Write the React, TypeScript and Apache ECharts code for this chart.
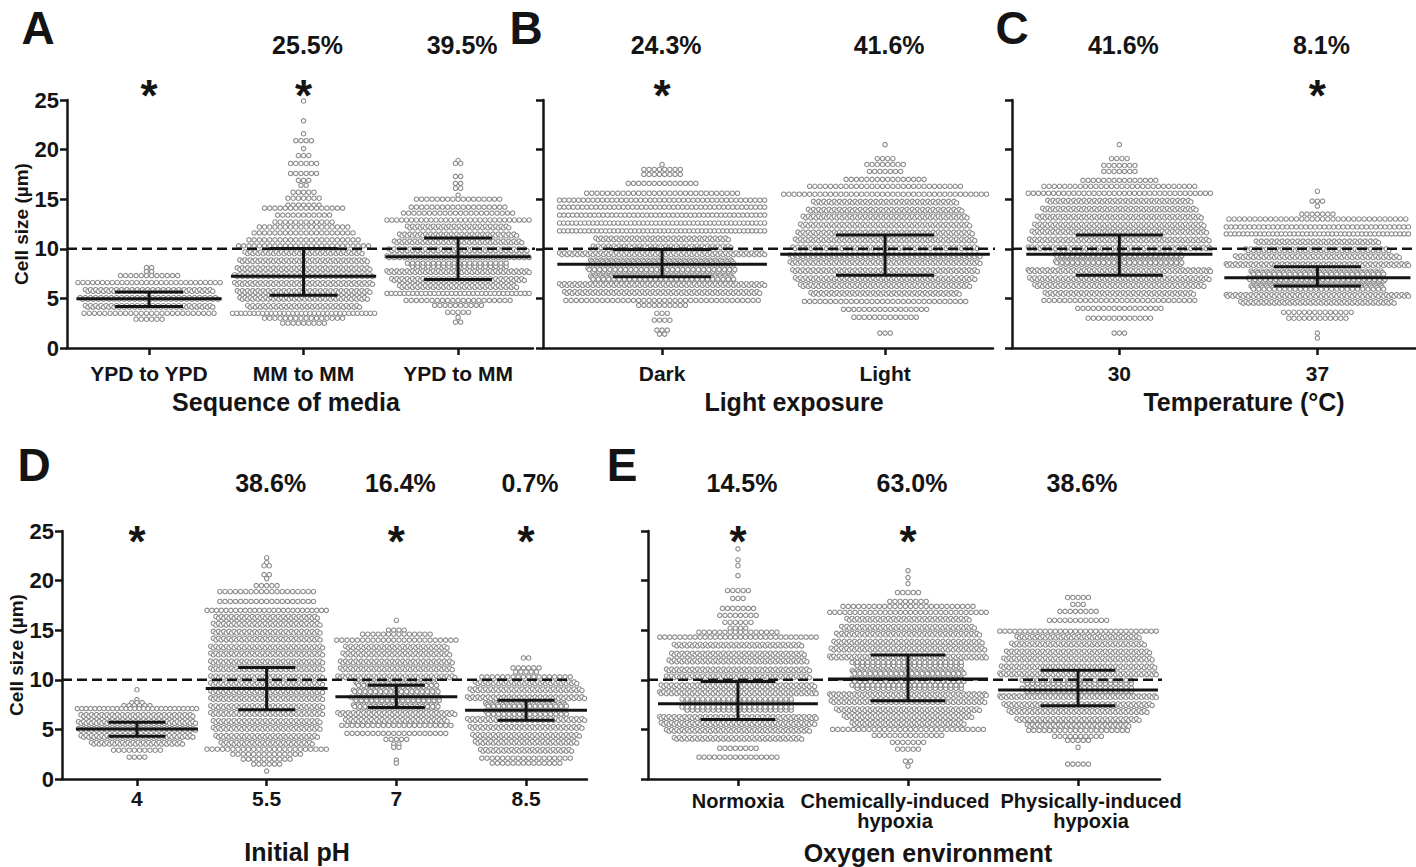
import React, { useEffect, useRef } from 'react';
import * as echarts from 'echarts';

const FONT = '"Liberation Sans", Arial, Helvetica, sans-serif';
const INK = '#141414';
const DOT = '#8a8a8a';
const THRESHOLD = 10;
const Y_TICKS_MAX = 25;

// ---------- Panel A: Sequence of media ----------
const mediaCats = ['YPD to YPD', 'MM to MM', 'YPD to MM'];
const ypdYpdSizes = [8.1, 7.7, 7.3, 6.6, 5.8, 5.0, 4.2, 3.5, 2.9];
const ypdYpdCounts = [2, 2, 12, 30, 50, 54, 50, 26, 6];
const mmMmSizes = [24.9, 22.9, 21.6, 20.9, 20.1, 19.4, 18.6, 17.6, 16.9, 16.4, 15.7, 15.1, 14.4, 14.1, 13.4, 12.7, 12.2, 11.6, 10.9, 10.3, 9.6, 8.8, 8.0, 7.3, 6.5, 5.7, 5.0, 4.2, 3.5, 3.0, 2.5];
const mmMmCounts = [1, 1, 1, 4, 1, 3, 6, 6, 3, 2, 5, 7, 7, 16, 11, 12, 18, 20, 22, 26, 46, 50, 52, 54, 54, 52, 50, 44, 34, 16, 9];
const ypdMmSizes = [18.9, 18.6, 17.3, 16.6, 16.1, 15.4, 15.0, 14.2, 13.6, 12.9, 12.2, 11.4, 10.7, 9.9, 9.2, 8.4, 7.7, 6.9, 6.2, 5.5, 4.8, 4.3, 3.6, 3.1, 2.6];
const ypdMmCounts = [1, 2, 2, 2, 2, 1, 17, 19, 22, 30, 40, 46, 50, 54, 56, 58, 56, 52, 46, 34, 21, 10, 5, 1, 2];
const mediaMedian = [4.97, 7.23, 9.19];
const mediaQ1 = [4.19, 5.32, 6.9];
const mediaQ3 = [5.64, 10.03, 11.1];
const mediaPct = ['', '25.5%', '39.5%'];
const mediaStar = [true, true, false];

// ---------- Panel B: Light exposure ----------
const lightCats = ['Dark', 'Light'];
const darkSizes = [18.5, 18.0, 17.5, 16.6, 15.6, 14.9, 14.2, 13.4, 12.6, 11.8, 11.0, 10.2, 9.5, 8.7, 7.9, 7.1, 6.4, 5.6, 4.8, 4.3, 3.5, 2.8, 1.8, 1.4];
const darkCounts = [1, 8, 8, 14, 30, 44, 46, 48, 50, 50, 52, 54, 80, 84, 86, 84, 80, 76, 38, 10, 3, 4, 3, 2];
const lightSizes = [20.5, 19.1, 18.5, 17.8, 17.0, 16.3, 15.5, 14.7, 13.9, 13.2, 12.4, 11.6, 10.9, 10.1, 9.3, 8.6, 7.8, 7.0, 6.3, 5.5, 4.7, 3.9, 3.1, 1.5];
const lightCounts = [1, 4, 8, 7, 16, 30, 40, 56, 60, 64, 66, 68, 70, 72, 74, 74, 72, 70, 66, 58, 32, 17, 13, 3];
const lightMedian = [8.45, 9.46];
const lightQ1 = [7.17, 7.34];
const lightQ3 = [9.93, 11.38];
const lightPct = ['24.3%', '41.6%'];
const lightStar = [true, false];

// ---------- Panel C: Temperature ----------
const tempCats = ['30', '37'];
const temp30Sizes = [20.5, 19.1, 18.4, 17.8, 16.9, 16.3, 15.6, 14.8, 14.0, 13.2, 12.4, 11.7, 10.9, 10.1, 9.3, 8.6, 7.8, 7.0, 6.3, 5.5, 4.8, 4.0, 3.0, 1.5];
const temp30Counts = [1, 4, 7, 7, 15, 30, 37, 56, 60, 64, 66, 68, 70, 72, 74, 74, 72, 70, 66, 58, 30, 17, 13, 3];
const temp37Sizes = [15.8, 14.8, 14.3, 13.5, 13.0, 12.2, 11.5, 10.7, 9.9, 9.2, 8.4, 7.6, 6.9, 6.1, 5.3, 4.6, 3.6, 3.0, 1.5, 1.0];
const temp37Counts = [1, 3, 1, 7, 35, 40, 44, 48, 56, 64, 72, 78, 80, 78, 72, 60, 14, 12, 1, 1];
const tempMedian = [9.46, 7.07];
const tempQ1 = [7.34, 6.26];
const tempQ3 = [11.38, 8.18];
const tempPct = ['41.6%', '8.1%'];
const tempStar = [false, true];

// ---------- Panel D: Initial pH ----------
const phCats = ['4', '5.5', '7', '8.5'];
const ph4Sizes = [9.0, 8.0, 7.7, 7.4, 7.1, 6.4, 5.7, 5.0, 4.3, 3.6, 2.9, 2.2];
const ph4Counts = [1, 1, 3, 6, 28, 44, 46, 46, 44, 36, 10, 4];
const ph55Sizes = [22.3, 21.8, 21.5, 20.6, 20.2, 19.5, 18.9, 17.9, 17.0, 16.3, 15.6, 14.8, 14.1, 13.3, 12.6, 11.8, 11.1, 10.3, 9.6, 8.8, 8.1, 7.3, 6.6, 5.8, 5.1, 4.3, 3.6, 3.0, 2.5, 2.0, 1.5, 0.8];
const ph55Counts = [1, 1, 2, 2, 1, 5, 19, 19, 26, 40, 42, 42, 42, 44, 44, 44, 44, 44, 44, 44, 44, 44, 44, 42, 42, 40, 36, 24, 14, 10, 6, 1];
const ph7Sizes = [16.0, 15.0, 14.6, 14.0, 13.3, 12.6, 11.8, 11.1, 10.3, 9.6, 8.8, 8.1, 7.3, 6.6, 5.9, 5.4, 4.6, 4.0, 3.5, 3.2, 1.9, 1.6];
const ph7Counts = [1, 4, 14, 24, 40, 42, 44, 44, 46, 48, 50, 52, 50, 46, 40, 22, 20, 5, 2, 2, 1, 1];
const ph85Sizes = [12.2, 11.2, 10.8, 10.3, 9.7, 9.0, 8.2, 7.5, 6.7, 6.0, 5.2, 4.4, 3.7, 2.9, 2.1, 1.6];
const ph85Counts = [2, 6, 5, 18, 40, 44, 46, 48, 48, 46, 44, 42, 40, 36, 18, 14];
const phMedian = [5.05, 9.12, 8.28, 6.93];
const phQ1 = [4.31, 6.99, 7.2, 5.91];
const phQ3 = [5.72, 11.25, 9.46, 7.94];
const phPct = ['', '38.6%', '16.4%', '0.7%'];
const phStar = [true, false, true, true];

// ---------- Panel E: Oxygen environment ----------
const oxyCats = ['Normoxia', 'Chemically-induced\nhypoxia', 'Physically-induced\nhypoxia'];
const normoxiaSizes = [23.2, 22.1, 21.5, 20.5, 19.0, 18.2, 17.2, 16.5, 15.8, 15.2, 14.8, 14.3, 13.5, 12.6, 11.9, 11.0, 10.3, 9.4, 8.7, 7.9, 7.1, 6.2, 5.6, 4.9, 4.1, 3.1, 2.2];
const normoxiaCounts = [1, 1, 1, 1, 5, 3, 7, 8, 6, 4, 16, 32, 50, 52, 54, 56, 56, 60, 62, 64, 64, 62, 60, 56, 50, 8, 16];
const chemSizes = [21.0, 20.3, 19.7, 18.8, 17.9, 17.4, 16.8, 16.1, 15.3, 14.6, 13.8, 13.1, 12.3, 11.6, 10.8, 10.0, 9.3, 8.5, 7.8, 7.0, 6.3, 5.6, 5.0, 4.4, 3.7, 3.0, 1.8, 1.3];
const chemCounts = [1, 1, 1, 5, 8, 26, 32, 48, 52, 56, 58, 60, 62, 64, 66, 66, 64, 62, 60, 56, 50, 44, 30, 14, 7, 5, 2, 1];
const physSizes = [18.3, 17.6, 16.9, 16.0, 14.9, 14.3, 13.6, 12.8, 12.1, 11.3, 10.6, 9.8, 9.0, 8.3, 7.5, 6.8, 6.0, 5.4, 4.9, 4.3, 3.9, 3.2, 1.5];
const physCounts = [5, 3, 8, 12, 32, 48, 52, 56, 58, 60, 62, 64, 64, 62, 58, 54, 48, 40, 20, 10, 5, 1, 5];
const oxyMedian = [7.58, 10.07, 8.96];
const oxyQ1 = [5.99, 7.9, 7.38];
const oxyQ3 = [9.83, 12.5, 10.97];
const oxyPct = ['14.5%', '63.0%', '38.6%'];
const oxyStar = [true, true, false];

type Panel = {
  letter: string;
  title: string;
  cats: string[];
  groups: [number[], number[]][];
  median: number[];
  q1: number[];
  q3: number[];
  pct: string[];
  star: boolean[];
  layout: any;
};

const panels: Panel[] = [
  {
    letter: 'A', title: 'Sequence of media', cats: mediaCats,
    groups: [[ypdYpdSizes, ypdYpdCounts], [mmMmSizes, mmMmCounts], [ypdMmSizes, ypdMmCounts]],
    median: mediaMedian, q1: mediaQ1, q3: mediaQ3, pct: mediaPct, star: mediaStar,
    layout: { left: 67, top: 100, width: 466, height: 248, xMin: -0.531, xMax: 2.485, dashExt: 0.06, yLabels: true, nameGap: 34, labelMargin: 15, labelSize: 21, customLabels: false, labelShift: [0, 0, 0], pctY: 45, starY: 85, letterX: 38, letterY: 28, titleX: 286, titleY: 402 },
  },
  {
    letter: 'B', title: 'Light exposure', cats: lightCats,
    groups: [[darkSizes, darkCounts], [lightSizes, lightCounts]],
    median: lightMedian, q1: lightQ1, q3: lightQ3, pct: lightPct, star: lightStar,
    layout: { left: 543, top: 100, width: 450, height: 248, xMin: -0.534, xMax: 1.484, dashExt: 0.01, yLabels: false, nameGap: 30, labelMargin: 15, labelSize: 21, customLabels: false, labelShift: [0, 0], pctY: 45, starY: 85, letterX: 526, letterY: 28, titleX: 794, titleY: 402 },
  },
  {
    letter: 'C', title: 'Temperature (°C)', cats: tempCats,
    groups: [[temp30Sizes, temp30Counts], [temp37Sizes, temp37Counts]],
    median: tempMedian, q1: tempQ1, q3: tempQ3, pct: tempPct, star: tempStar,
    layout: { left: 1012, top: 100, width: 410, height: 248, xMin: -0.542, xMax: 1.498, dashExt: 0, yLabels: false, nameGap: 30, labelMargin: 15, labelSize: 21, customLabels: false, labelShift: [0, 0], pctY: 45, starY: 85, letterX: 1012, letterY: 28, titleX: 1244, titleY: 402 },
  },
  {
    letter: 'D', title: 'Initial pH', cats: phCats,
    groups: [[ph4Sizes, ph4Counts], [ph55Sizes, ph55Counts], [ph7Sizes, ph7Counts], [ph85Sizes, ph85Counts]],
    median: phMedian, q1: phQ1, q3: phQ3, pct: phPct, star: phStar,
    layout: { left: 62, top: 531, width: 525, height: 248, xMin: -0.578, xMax: 3.47, dashExt: -0.13, yLabels: true, nameGap: 30, labelMargin: 9, labelSize: 21, customLabels: false, labelShift: [0, 0, 0, 0], pctY: 483, starY: 531, letterX: 34, letterY: 465, titleX: 297, titleY: 852 },
  },
  {
    letter: 'E', title: 'Oxygen environment', cats: oxyCats,
    groups: [[normoxiaSizes, normoxiaCounts], [chemSizes, chemCounts], [physSizes, physCounts]],
    median: oxyMedian, q1: oxyQ1, q3: oxyQ3, pct: oxyPct, star: oxyStar,
    layout: { left: 648, top: 531, width: 512, height: 248, xMin: -0.529, xMax: 2.482, dashExt: 0.08, yLabels: false, nameGap: 30, labelMargin: 12, labelSize: 20, customLabels: true, labelShift: [0, -13, 13], pctY: 483, starY: 531, letterX: 622, letterY: 465, titleX: 928, titleY: 853 },
  },
];

const DOT_STEP = 5.2;

function swarmRender(_params: any, api: any) {
  const g = api.value(0);
  const v = api.value(1);
  const rank = api.value(2);
  const n = api.value(3);
  const c = api.coord([g, v]);
  const band = api.size([1, 0])[0];
  const H = 0.46 * band;
  const cap = Math.floor((2 * H) / DOT_STEP) + 1;
  const k = n <= cap * 1.25 ? 1 : Math.ceil(n / cap);
  const j = rank % k;
  const idx = Math.floor(rank / k);
  const m = Math.floor((n - 1 - j) / k) + 1;
  const sp = m > 1 ? Math.min(DOT_STEP, (2 * H) / (m - 1)) : 0;
  let dx = (idx - (m - 1) / 2) * sp;
  if (k > 1) dx += (j / (k - 1) - 0.5) * sp * 0.5;
  dx = Math.max(-H, Math.min(H, dx));
  const dy = k > 1 ? (j - (k - 1) / 2) * 1.6 : 0;
  return {
    type: 'circle',
    shape: { cx: c[0] + dx, cy: c[1] + dy, r: 2.2 },
    style: { fill: '#ffffff', stroke: DOT, lineWidth: 1.1 },
  };
}

function statsRender(_params: any, api: any) {
  const g = api.value(0);
  const med = api.coord([g, api.value(1)]);
  const lo = api.coord([g, api.value(2)]);
  const hi = api.coord([g, api.value(3)]);
  const band = api.size([1, 0])[0];
  const hm = 0.47 * band;
  const hq = 0.22 * band;
  const style = { stroke: INK, lineWidth: 3 };
  return {
    type: 'group',
    children: [
      { type: 'line', shape: { x1: med[0] - hm, y1: med[1], x2: med[0] + hm, y2: med[1] }, style },
      { type: 'line', shape: { x1: lo[0] - hq, y1: lo[1], x2: lo[0] + hq, y2: lo[1] }, style },
      { type: 'line', shape: { x1: hi[0] - hq, y1: hi[1], x2: hi[0] + hq, y2: hi[1] }, style },
      { type: 'line', shape: { x1: lo[0], y1: lo[1], x2: hi[0], y2: hi[1] }, style },
    ],
  };
}

function textStyle(text: string, size: number, vAlign = 'middle', lineHeight?: number) {
  const s: any = {
    text,
    fill: INK,
    fontSize: size,
    fontWeight: 'bold',
    fontFamily: FONT,
    align: 'center',
    verticalAlign: vAlign,
    textAlign: 'center',
    textVerticalAlign: vAlign,
  };
  if (lineHeight) s.lineHeight = lineHeight;
  return s;
}

function buildOption() {
  const grid: any[] = [];
  const xAxis: any[] = [];
  const yAxis: any[] = [];
  const series: any[] = [];
  const graphic: any[] = [];
  const axisLineStyle = { color: INK, width: 2.5 };

  panels.forEach((p, i) => {
    const L = p.layout;
    const ticks = p.cats.map((_, k) => k);
    const sz = L.labelSize;
    grid.push({ left: L.left, top: L.top, width: L.width, height: L.height, containLabel: false });
    xAxis.push({
      type: 'value', gridIndex: i, min: L.xMin, max: L.xMax,
      splitLine: { show: false },
      axisLine: { show: true, onZero: false, lineStyle: axisLineStyle },
      axisTick: { show: true, customValues: ticks, length: 7, lineStyle: axisLineStyle },
      axisLabel: {
        show: !L.customLabels, customValues: ticks, hideOverlap: false,
        showMinLabel: true, showMaxLabel: true,
        formatter: (val: number) => p.cats[Math.round(val)] ?? '',
        margin: L.labelMargin, color: INK, fontSize: sz, fontWeight: 'bold', fontFamily: FONT, lineHeight: sz,
      },
    });
    yAxis.push({
      type: 'value', gridIndex: i, min: 0, max: Y_TICKS_MAX, interval: 5,
      splitLine: { show: false },
      axisLine: { show: true, onZero: false, lineStyle: axisLineStyle },
      axisTick: { show: true, length: 7, lineStyle: axisLineStyle },
      axisLabel: { show: L.yLabels, margin: 8, color: INK, fontSize: 22, fontWeight: 'bold', fontFamily: FONT, showMinLabel: true, showMaxLabel: true },
      name: L.yLabels ? 'Cell size (µm)' : '',
      nameLocation: 'middle', nameGap: L.nameGap,
      nameTextStyle: { color: INK, fontSize: 19, fontWeight: 'bold', fontFamily: FONT },
    });

    const pts: number[][] = [];
    p.groups.forEach(([sizes, counts], g) => {
      sizes.forEach((s, r) => {
        const n = counts[r];
        for (let q = 0; q < n; q++) pts.push([g, s, q, n]);
      });
    });
    series.push({
      type: 'custom', name: `swarm-${p.letter}`, xAxisIndex: i, yAxisIndex: i,
      coordinateSystem: 'cartesian2d', renderItem: swarmRender,
      dimensions: ['cat', 'size', 'rank', 'n'], encode: { x: 0, y: 1 },
      data: pts, silent: true, z: 2, progressive: 0, progressiveThreshold: 1e9,
    });
    series.push({
      type: 'line', name: `threshold-${p.letter}`, xAxisIndex: i, yAxisIndex: i,
      data: [[L.xMin, THRESHOLD], [L.xMax + L.dashExt, THRESHOLD]],
      symbol: 'none', clip: false, silent: true, z: 4,
      lineStyle: { type: [10, 5], width: 2.5, color: INK },
    });
    series.push({
      type: 'custom', name: `stats-${p.letter}`, xAxisIndex: i, yAxisIndex: i,
      coordinateSystem: 'cartesian2d', renderItem: statsRender,
      encode: { x: 0, y: 1 },
      data: p.median.map((m, g) => [g, m, p.q1[g], p.q3[g]]), silent: true, z: 5,
    });
    series.push({
      type: 'custom', name: `annot-${p.letter}`, xAxisIndex: i, yAxisIndex: i,
      coordinateSystem: 'cartesian2d', encode: { x: 0, y: 1 },
      data: p.cats.map((_, g) => [g, Y_TICKS_MAX]), silent: true, z: 6,
      renderItem: (_params: any, api: any) => {
        const g = api.value(0);
        const x = api.coord([g, Y_TICKS_MAX])[0];
        const y0 = api.coord([g, 0])[1];
        const children: any[] = [];
        if (p.pct[g]) children.push({ type: 'text', x: x + 4, y: L.pctY, style: textStyle(p.pct[g], 25) });
        if (p.star[g]) children.push({ type: 'text', x: x, y: L.starY + 10, style: textStyle('*', 44) });
        if (L.customLabels) {
          children.push({
            type: 'text', x: x + (L.labelShift[g] || 0), y: y0 + L.labelMargin,
            style: textStyle(p.cats[g], sz, 'top', sz),
          });
        }
        return { type: 'group', children };
      },
    });

    graphic.push({ type: 'text', x: L.letterX, y: L.letterY, style: textStyle(p.letter, 46), silent: true });
    graphic.push({ type: 'text', x: L.titleX, y: L.titleY, style: textStyle(p.title, 25), silent: true });
  });

  return {
    animation: false,
    backgroundColor: '#ffffff',
    textStyle: { fontFamily: FONT },
    grid, xAxis, yAxis, series, graphic,
  };
}

export default function App() {
  const ref = useRef<HTMLDivElement>(null);
  useEffect(() => {
    if (!ref.current) return;
    const chart = echarts.init(ref.current, undefined, { renderer: 'svg' });
    chart.setOption(buildOption() as any);
    return () => chart.dispose();
  }, []);
  return (
    <div
      ref={ref}
      style={{ position: 'fixed', left: 0, top: 0, width: 1416, height: 867, background: '#fff' }}
    />
  );
}
